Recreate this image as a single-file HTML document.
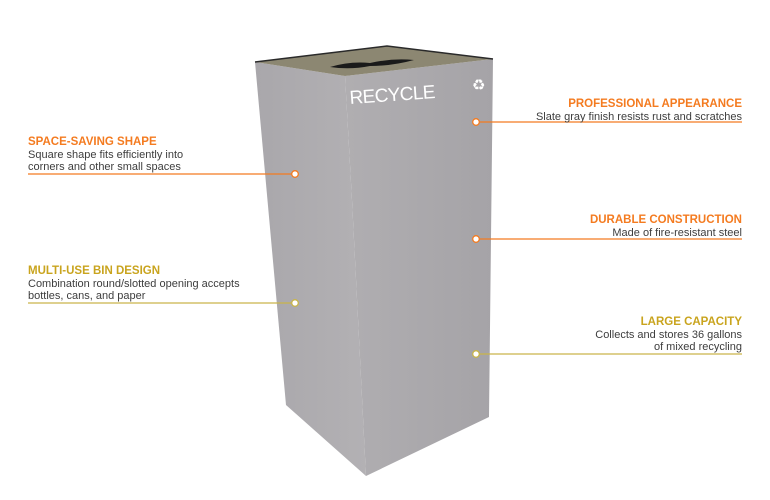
<!DOCTYPE html>
<html><head><meta charset="utf-8"><style>
html,body{margin:0;padding:0;background:#fff;}
body{width:770px;height:500px;position:relative;overflow:hidden;font-family:"Liberation Sans",sans-serif;}
.t{position:absolute;font-size:11px;line-height:12.5px;color:#3d3d3d;white-space:nowrap;}
.h{font-weight:bold;font-size:11.5px;}
.o{color:#f47b20;}.g{color:#c9a41e;}
.r{text-align:right;}
</style></head><body>
<svg width="770" height="500" style="position:absolute;left:0;top:0">
<defs>
<linearGradient id="lf" x1="0" x2="1"><stop offset="0" stop-color="#a9a7ab"/><stop offset="1" stop-color="#b3b1b4"/></linearGradient>
<linearGradient id="rf" x1="0" x2="1"><stop offset="0" stop-color="#b0aeb1"/><stop offset="1" stop-color="#a5a3a7"/></linearGradient>
</defs>
<polygon points="255,62 345,76 352,200 366,476 286,405" fill="url(#lf)"/>
<polygon points="345,76 493,59 489,417 366,476 352,200" fill="url(#rf)"/>
<polygon points="255,62 387,46 493,59 345,76" fill="#8c8772"/>
<polyline points="255,62 387,46 493,59" fill="none" stroke="#2a2a2a" stroke-width="1.5"/>
<path d="M330,67 Q350,61 370,63 Q392,58 414,60 Q392,66 370,66 Q350,70 330,67Z" fill="#1a1a1a"/>
<text x="350" y="104" font-family="Liberation Sans,sans-serif" font-size="19" fill="#fff" transform="rotate(-4 350 104)" textLength="86" lengthAdjust="spacing">RECYCLE</text>
<text x="472" y="90" font-size="15" fill="#fff">♻</text>
<g stroke-width="1.3" fill="#fff">
<line x1="28" y1="174" x2="295" y2="174" stroke="#f47b20"/><circle cx="295" cy="174" r="3.3" stroke="#f47b20"/>
<line x1="28" y1="303" x2="295" y2="303" stroke="#c9b54a"/><circle cx="295" cy="303" r="3.3" stroke="#c9b54a"/>
<line x1="476" y1="122" x2="742" y2="122" stroke="#f47b20"/><circle cx="476" cy="122" r="3.3" stroke="#f47b20"/>
<line x1="476" y1="239" x2="742" y2="239" stroke="#f47b20"/><circle cx="476" cy="239" r="3.3" stroke="#f47b20"/>
<line x1="476" y1="354" x2="742" y2="354" stroke="#c9b54a"/><circle cx="476" cy="354" r="3.3" stroke="#c9b54a"/>
</g>
</svg>
<div class="t" style="left:28px;top:136px"><div class="h o">SPACE-SAVING SHAPE</div>Square shape fits efficiently into<br>corners and other small spaces</div>
<div class="t" style="left:28px;top:265px"><div class="h g">MULTI-USE BIN DESIGN</div>Combination round/slotted opening accepts<br>bottles, cans, and paper</div>
<div class="t r" style="right:28px;top:98px"><div class="h o">PROFESSIONAL APPEARANCE</div>Slate gray finish resists rust and scratches</div>
<div class="t r" style="right:28px;top:214px"><div class="h o">DURABLE CONSTRUCTION</div>Made of fire-resistant steel</div>
<div class="t r" style="right:28px;top:316px"><div class="h g">LARGE CAPACITY</div>Collects and stores 36 gallons<br>of mixed recycling</div>
</body></html>
